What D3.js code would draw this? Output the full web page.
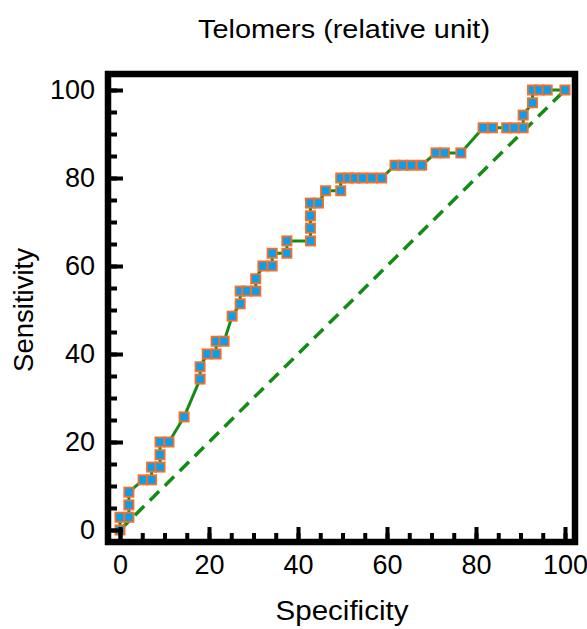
<!DOCTYPE html>
<html>
<head>
<meta charset="utf-8">
<script src="https://cdn.jsdelivr.net/npm/d3@7"></script>
<style>
  body { margin: 0; background: #fff; }
  text { font-family: "Liberation Sans", Arial, Helvetica, sans-serif; fill: #000; }
</style>
</head>
<body>
<div id="chart"></div>
<script>
// ROC points (specificity axis, sensitivity)
var specificity = [0, 0, 2, 2, 2, 5.2, 7.1, 7.1, 9, 9, 9, 11, 14.4, 18, 18, 19.6, 21.6, 21.6, 23.4,
  25.2, 27, 27, 28.5, 30.5, 30.5, 32.1, 34.2, 34.2, 37.5, 37.5, 42.8, 42.8, 42.8, 42.8, 44.6,
  46.2, 49.6, 49.6, 51.3, 52.8, 54.5, 56.6, 58.8, 61.8, 63.5, 65.5, 67.8, 71, 72.9, 76.6,
  81.6, 83.7, 86.9, 88.6, 90.6, 90.6, 92.7, 92.7, 94.2, 96, 100];
var sensitivity = [0, 2.9, 2.9, 5.7, 8.6, 11.4, 11.4, 14.3, 14.3, 17.1, 20, 20, 25.7, 34.3, 37.1, 40, 40, 42.9, 42.9,
  48.6, 51.4, 54.3, 54.3, 54.3, 57.1, 60, 60, 62.9, 62.9, 65.7, 65.7, 68.6, 71.4, 74.3, 74.3,
  77.1, 77.1, 80, 80, 80, 80, 80, 80, 82.9, 82.9, 82.9, 82.9, 85.7, 85.7, 85.7,
  91.4, 91.4, 91.4, 91.4, 91.4, 94.3, 97.1, 100, 100, 100, 100];
var majorTicks = [0, 20, 40, 60, 80, 100];
var minorTicks = d3.range(0, 101, 5);
var diagonal = [[0, 0], [100, 100]];

var width = 587, height = 629;

var svg = d3.select("#chart").append("svg")
    .attr("width", width)
    .attr("height", height);

var x = d3.scaleLinear().domain([0, 100]).range([120, 565]);
var y = d3.scaleLinear().domain([0, 100]).range([530, 90]);

var frame = { left: 108, right: 575, top: 74, bottom: 542 };

var points = specificity.map(function(d, i) { return [d, sensitivity[i]]; });

// reference diagonal
svg.append("path")
    .datum(diagonal)
    .attr("d", d3.line().x(d => x(d[0])).y(d => y(d[1])))
    .attr("fill", "none")
    .attr("stroke", "#128c12")
    .attr("stroke-width", 3.5)
    .attr("stroke-dasharray", "13,8");

// ROC curve
svg.append("path")
    .datum(points)
    .attr("d", d3.line().x(d => x(d[0])).y(d => y(d[1])))
    .attr("fill", "none")
    .attr("stroke", "#128c12")
    .attr("stroke-width", 3);

svg.append("g").selectAll("rect")
    .data(points)
    .join("rect")
    .attr("x", d => x(d[0]) - 4.6)
    .attr("y", d => y(d[1]) - 4.6)
    .attr("width", 9.2)
    .attr("height", 9.2)
    .attr("fill", "#0a9eee")
    .attr("stroke", "#f86e24")
    .attr("stroke-width", 1.8);

// axes, ticks point inward
var xMinor = svg.append("g")
    .attr("transform", "translate(0," + frame.bottom + ")")
    .call(d3.axisBottom(x).tickValues(minorTicks).tickSize(-9).tickFormat(""));
var xMajor = svg.append("g")
    .attr("transform", "translate(0," + frame.bottom + ")")
    .call(d3.axisBottom(x).tickValues(majorTicks).tickSize(-15).tickPadding(13).tickFormat(d3.format("d")));
var yMinor = svg.append("g")
    .attr("transform", "translate(" + frame.left + ",0)")
    .call(d3.axisLeft(y).tickValues(minorTicks).tickSize(-9).tickFormat(""));
var yMajor = svg.append("g")
    .attr("transform", "translate(" + frame.left + ",0)")
    .call(d3.axisLeft(y).tickValues(majorTicks).tickSize(-15).tickPadding(13).tickFormat(d3.format("d")));

[xMinor, xMajor, yMinor, yMajor].forEach(function(g) {
    g.select(".domain").remove();
    g.selectAll(".tick line").attr("stroke", "#000").attr("stroke-width", 4);
    g.selectAll(".tick text").style("font-size", "27px").attr("fill", "#000");
});
xMajor.selectAll(".tick text").attr("dy", "0.71em");

svg.append("rect")
    .attr("x", frame.left)
    .attr("y", frame.top)
    .attr("width", frame.right - frame.left)
    .attr("height", frame.bottom - frame.top)
    .attr("fill", "none")
    .attr("stroke", "#000")
    .attr("stroke-width", 6.5);

svg.append("text")
    .attr("x", 344)
    .attr("y", 38)
    .attr("text-anchor", "middle")
    .attr("textLength", 292)
    .attr("lengthAdjust", "spacingAndGlyphs")
    .style("font-size", "25.5px")
    .text("Telomers (relative unit)");

svg.append("text")
    .attr("x", 342)
    .attr("y", 620)
    .attr("text-anchor", "middle")
    .attr("textLength", 133)
    .attr("lengthAdjust", "spacingAndGlyphs")
    .style("font-size", "27px")
    .text("Specificity");

svg.append("text")
    .attr("transform", "translate(33,310) rotate(-90)")
    .attr("text-anchor", "middle")
    .attr("textLength", 124)
    .attr("lengthAdjust", "spacingAndGlyphs")
    .style("font-size", "27px")
    .text("Sensitivity");
</script>
</body>
</html>
